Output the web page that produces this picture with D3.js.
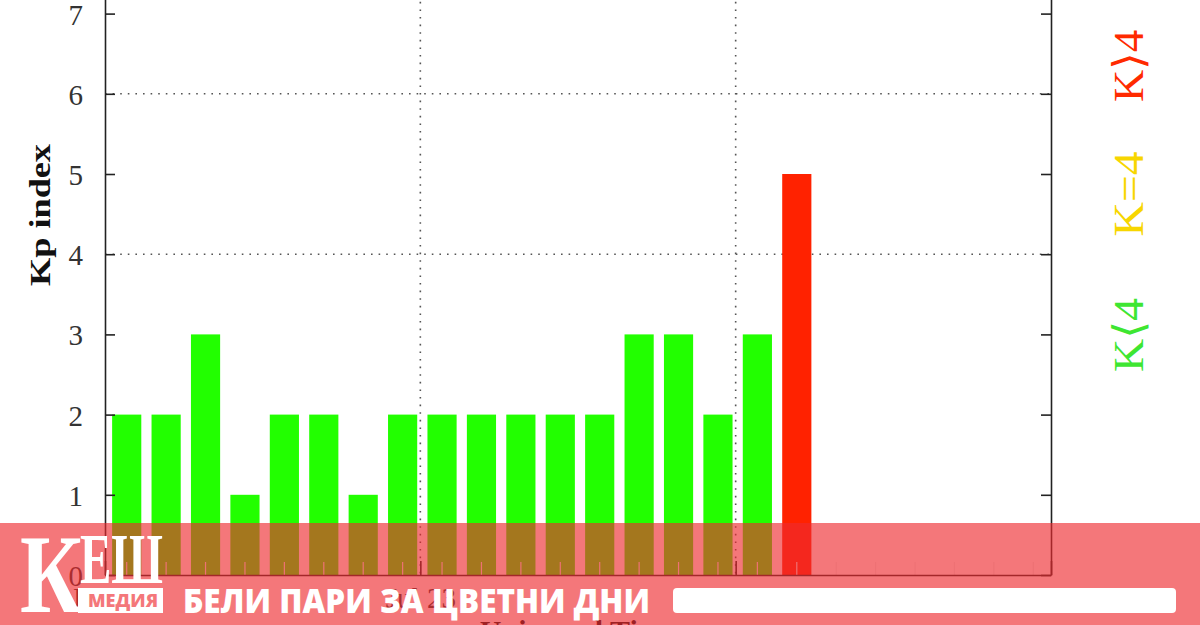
<!DOCTYPE html>
<html>
<head>
<meta charset="utf-8">
<script src="https://cdn.jsdelivr.net/npm/d3@7"></script>
<style>
  body { margin: 0; background: #fff; }
  svg { display: block; }
</style>
</head>
<body>
<div id="chart"></div>
<script>
// 3-hourly Kp values, 3 days
var kpValues = [2, 2, 3, 1, 2, 2, 1, 2,
                2, 2, 2, 2, 2, 3, 3, 2,
                3, 5];
var yTicks = [0, 1, 2, 3, 4, 5, 6, 7];
var yGrid = [4, 6];
var dayTicks = [0, 24, 48, 72];
var dayLabels = ["Jul 22", "Jul 23", "Jul 24", "Jul 25"];
var legendLabels = ["K\u27E84", "K=4", "K\u27E94"];
var legendColors = ["#3ee632", "#f7d600", "#ff2a00"];

var width = 1200,
    height = 625,
    left = 105, right = 1051, bottom = 575;

var svg = d3.select("#chart")
  .append("svg")
  .attr("width", width)
  .attr("height", height);

var x = d3.scaleLinear().domain([0, 72]).range([left, right]);
var y = d3.scaleLinear().domain([0, 8]).range([bottom, bottom - 8 * 80.2]);

var barW = (x(3) - x(0)) * 0.74;

function kpColor(v) {
  return v < 4 ? "#22ff00" : (v == 4 ? "#ffe600" : "#ff2200");
}

// grid (dotted)
svg.append("g").selectAll("line.hg")
  .data(yGrid).enter().append("line")
  .attr("x1", left).attr("x2", right)
  .attr("y1", d => y(d)).attr("y2", d => y(d))
  .attr("stroke", "#555").attr("stroke-width", 1.6)
  .attr("stroke-dasharray", "1.6,6");

svg.append("g").selectAll("line.vg")
  .data(dayTicks.slice(1, 3)).enter().append("line")
  .attr("x1", d => x(d)).attr("x2", d => x(d))
  .attr("y1", y(8)).attr("y2", bottom)
  .attr("stroke", "#555").attr("stroke-width", 1.6)
  .attr("stroke-dasharray", "1.6,6");

// bars
svg.append("g").selectAll("rect")
  .data(kpValues).enter().append("rect")
  .attr("x", (d, i) => x(i * 3 + 1.5) - barW / 2 + 2)
  .attr("width", barW)
  .attr("y", d => y(d))
  .attr("height", d => bottom - y(d))
  .attr("fill", d => kpColor(d));

// minor ticks at every 3 hours (light)
svg.append("g").selectAll("line")
  .data(d3.range(24)).enter().append("line")
  .attr("x1", d => x(d * 3 + 1.5) + 2).attr("x2", d => x(d * 3 + 1.5) + 2)
  .attr("y1", bottom - 13).attr("y2", bottom)
  .attr("stroke", "#eee").attr("stroke-width", 1.2);

// axes
var yAxisL = d3.axisLeft(y).tickValues(yTicks).tickSizeInner(-10).tickSizeOuter(0).tickPadding(22);
var yAxisR = d3.axisRight(y).tickValues(yTicks).tickSizeInner(-10).tickSizeOuter(0).tickFormat("");
var xAxis = d3.axisBottom(x).tickValues(dayTicks).tickSizeInner(-14).tickSizeOuter(0)
  .tickPadding(12).tickFormat((d, i) => dayLabels[i]);

var gl = svg.append("g").attr("transform", "translate(" + left + ",0)").call(yAxisL);
var gr = svg.append("g").attr("transform", "translate(" + right + ",0)").call(yAxisR);
var gx = svg.append("g").attr("transform", "translate(0," + bottom + ")").call(xAxis);

[gl, gr, gx].forEach(function(g) {
  g.select(".domain").attr("stroke", "#222").attr("stroke-width", 1.6);
  g.selectAll(".tick line").attr("stroke", "#222").attr("stroke-width", 1.6);
  g.selectAll("text")
    .attr("fill", "#333")
    .style("font-family", "'Liberation Serif', 'DejaVu Serif', serif")
    .style("font-size", "29px");
});
gl.selectAll("text").attr("dy", "0.36em");

// axis titles
svg.append("text")
  .attr("transform", "translate(50,215) rotate(-90)")
  .attr("text-anchor", "middle")
  .attr("textLength", 142)
  .attr("lengthAdjust", "spacingAndGlyphs")
  .style("font-family", "'Liberation Serif', serif")
  .style("font-weight", "bold")
  .style("font-size", "30px")
  .attr("fill", "#111")
  .text("Kp index");

svg.append("text")
  .attr("x", (left + right) / 2)
  .attr("y", 641)
  .attr("text-anchor", "middle")
  .style("font-family", "'Liberation Serif', serif")
  .style("font-weight", "bold")
  .style("font-size", "30px")
  .attr("fill", "#111")
  .text("Universal Time");

// colour key on the right
var legendY = [335, 194, 66];
var legendLen = [74, 85, 72];
svg.append("g").selectAll("text")
  .data(legendLabels).enter().append("text")
  .attr("transform", (d, i) => "translate(1143," + legendY[i] + ") rotate(-90)")
  .attr("text-anchor", "middle")
  .attr("textLength", (d, i) => legendLen[i])
  .attr("lengthAdjust", "spacingAndGlyphs")
  .style("font-family", "'Liberation Serif', 'DejaVu Serif', serif")
  .style("font-size", "42px")
  .attr("fill", (d, i) => legendColors[i])
  .text(d => d);

// banner overlay
var banner = svg.append("g");
banner.append("rect")
  .attr("x", 0).attr("y", 523)
  .attr("width", width).attr("height", height - 523)
  .attr("fill", "rgb(238,42,47)")
  .attr("fill-opacity", 0.64);

banner.append("rect")
  .attr("x", 78).attr("y", 588)
  .attr("width", 85).attr("height", 25)
  .attr("fill", "#fff");

banner.append("text")
  .attr("x", 123).attr("y", 607)
  .attr("text-anchor", "middle")
  .attr("textLength", 70)
  .attr("lengthAdjust", "spacingAndGlyphs")
  .style("font-family", "'Open Sans', 'DejaVu Sans', sans-serif")
  .style("font-weight", "800")
  .style("font-size", "18px")
  .attr("fill", "#f4777a")
  .text("МЕДИЯ");

banner.append("text")
  .attr("x", 20).attr("y", 612)
  .attr("textLength", 62)
  .attr("lengthAdjust", "spacingAndGlyphs")
  .style("font-family", "'Liberation Serif', 'DejaVu Serif', serif")
  .style("font-weight", "bold")
  .style("font-size", "112px")
  .attr("fill", "#fff")
  .text("К");

banner.append("text")
  .attr("x", 80).attr("y", 583)
  .attr("textLength", 83)
  .attr("lengthAdjust", "spacingAndGlyphs")
  .style("font-family", "'Liberation Serif', 'DejaVu Serif', serif")
  .style("font-weight", "bold")
  .style("font-size", "72px")
  .attr("fill", "#fff")
  .text("ЕШ");

banner.append("text")
  .attr("x", 183).attr("y", 613)
  .attr("textLength", 467)
  .attr("lengthAdjust", "spacingAndGlyphs")
  .style("font-family", "'Open Sans', 'Noto Sans', sans-serif")
  .style("font-weight", "800")
  .style("font-size", "34px")
  .attr("fill", "#fff")
  .text("БЕЛИ ПАРИ ЗА ЦВЕТНИ ДНИ");

banner.append("rect")
  .attr("x", 673).attr("y", 588)
  .attr("width", 503).attr("height", 25)
  .attr("rx", 4)
  .attr("fill", "#fff");
</script>
</body>
</html>
